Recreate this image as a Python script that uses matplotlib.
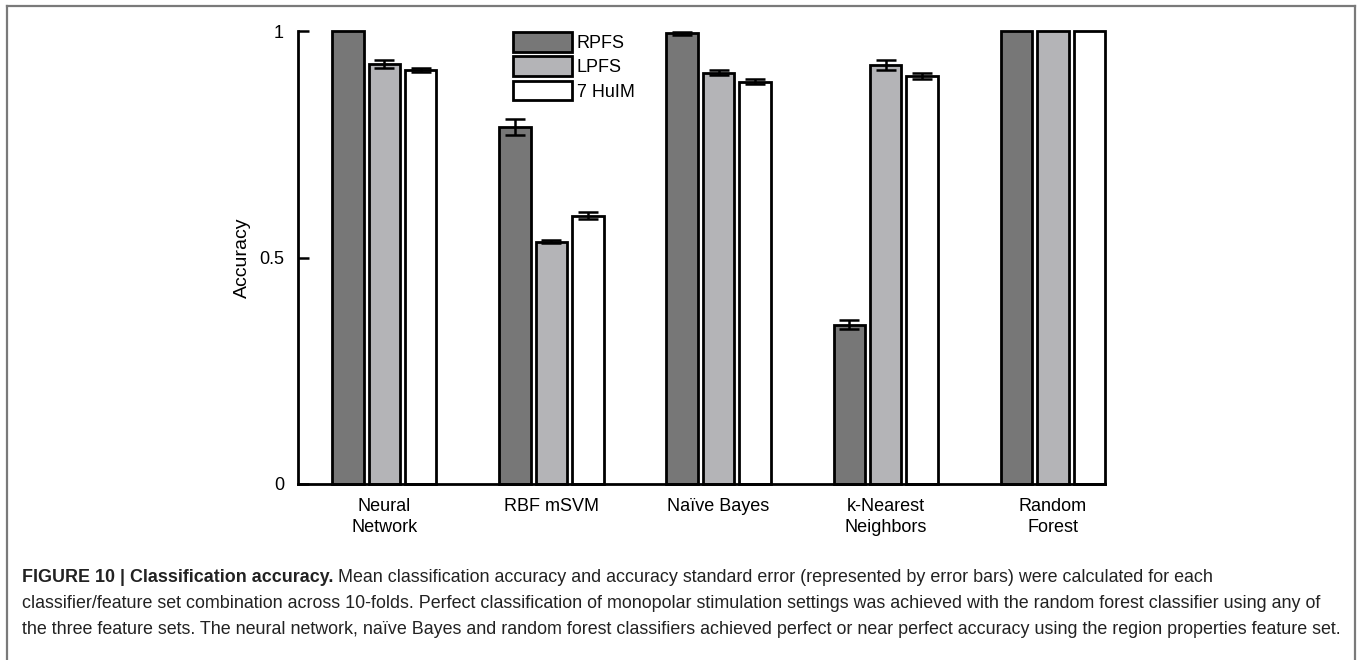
import matplotlib.pyplot as plt
import numpy as np
from matplotlib.lines import Line2D

plt.rcParams['font.family'] = ['Liberation Sans', 'DejaVu Sans']

# accuracy per classifier, one list per feature set
classifiers = ['Neural\nNetwork', 'RBF mSVM', 'Naïve Bayes', 'k-Nearest\nNeighbors', 'Random\nForest']
feature_sets = ['RPFS', 'LPFS', '7 HuIM']
rpfs = [1.0, 0.788, 0.995, 0.352, 1.0]
lpfs = [0.927, 0.535, 0.908, 0.925, 1.0]
huim = [0.914, 0.592, 0.888, 0.900, 1.0]
rpfs_err = [0.0, 0.018, 0.003, 0.009, 0.0]
lpfs_err = [0.009, 0.004, 0.005, 0.012, 0.0]
huim_err = [0.005, 0.008, 0.005, 0.007, 0.0]
colors = ['#777777', '#b4b4b7', '#ffffff']

caption_bold = 'FIGURE 10 | Classification accuracy.'
caption_lines = [
    ' Mean classification accuracy and accuracy standard error (represented by error bars) were calculated for each',
    'classifier/feature set combination across 10-folds. Perfect classification of monopolar stimulation settings was achieved with the random forest classifier using any of',
    'the three feature sets. The neural network, naïve Bayes and random forest classifiers achieved perfect or near perfect accuracy using the region properties feature set.',
]

fig = plt.figure(figsize=(13.6, 6.6), dpi=100)
W, H = 1360, 660
ax = fig.add_axes([298 / W, 1 - 484 / H, (1105 - 298) / W, (484 - 31) / H])

x = np.arange(len(classifiers))
bw = 0.188
step = 0.218
for k, (vals, errs) in enumerate(zip([rpfs, lpfs, huim], [rpfs_err, lpfs_err, huim_err])):
    pos = x + (k - 1) * step
    ax.bar(pos, vals, width=bw, color=colors[k], edgecolor='black', linewidth=2.0,
           label=feature_sets[k], clip_on=False, zorder=2)
    for p, v, e in zip(pos, vals, errs):
        if e > 0:
            ax.errorbar(p, v, yerr=e, color='black', elinewidth=1.8, capsize=7,
                        capthick=1.8, clip_on=False, zorder=3)

ax.set_xlim(-0.516, 4.312)
ax.set_ylim(0, 1)
ax.set_yticks([0, 0.5, 1])
ax.set_yticklabels(['0', '0.5', '1'])
ax.set_xticks(x)
ax.set_xticklabels(classifiers, linespacing=1.35)
ax.tick_params(axis='y', direction='in', length=8, width=1.8, labelsize=13, pad=10)
ax.tick_params(axis='x', length=0, labelsize=13, pad=10)
for s in ['top', 'right']:
    ax.spines[s].set_visible(False)
for s in ['left', 'bottom']:
    ax.spines[s].set_linewidth(2.0)
ax.set_ylabel('Accuracy', fontsize=14, labelpad=6)

ax.legend(loc='upper left', bbox_to_anchor=(0.255, 1.018), frameon=False, fontsize=13,
          handlelength=3.3, handleheight=1.3, handletextpad=0.25, labelspacing=0.25,
          borderpad=0)

# outer frame
frame = dict(color='#7a7a7a', linewidth=1.6)
fig.add_artist(Line2D([7 / W, 1355 / W], [1 - 6 / H, 1 - 6 / H], transform=fig.transFigure, **frame))
fig.add_artist(Line2D([7 / W, 7 / W], [1 - 6 / H, 0], transform=fig.transFigure, **frame))
fig.add_artist(Line2D([1355 / W, 1355 / W], [1 - 6 / H, 0], transform=fig.transFigure, **frame))

# caption
cap_size = 12.9
cap_color = '#222222'
y0 = 578
tb = fig.text(22 / W, 1 - y0 / H, caption_bold, fontsize=cap_size, fontweight='bold',
              color=cap_color, va='center', ha='left')
fig.canvas.draw()
bb = tb.get_window_extent()
fig.text(bb.x1 / W, 1 - y0 / H, caption_lines[0], fontsize=cap_size, color=cap_color,
         va='center', ha='left')
for i, line in enumerate(caption_lines[1:]):
    fig.text(22 / W, 1 - (y0 + 26 * (i + 1)) / H, line, fontsize=cap_size, color=cap_color,
             va='center', ha='left')

fig.savefig('out.png', dpi=100)
